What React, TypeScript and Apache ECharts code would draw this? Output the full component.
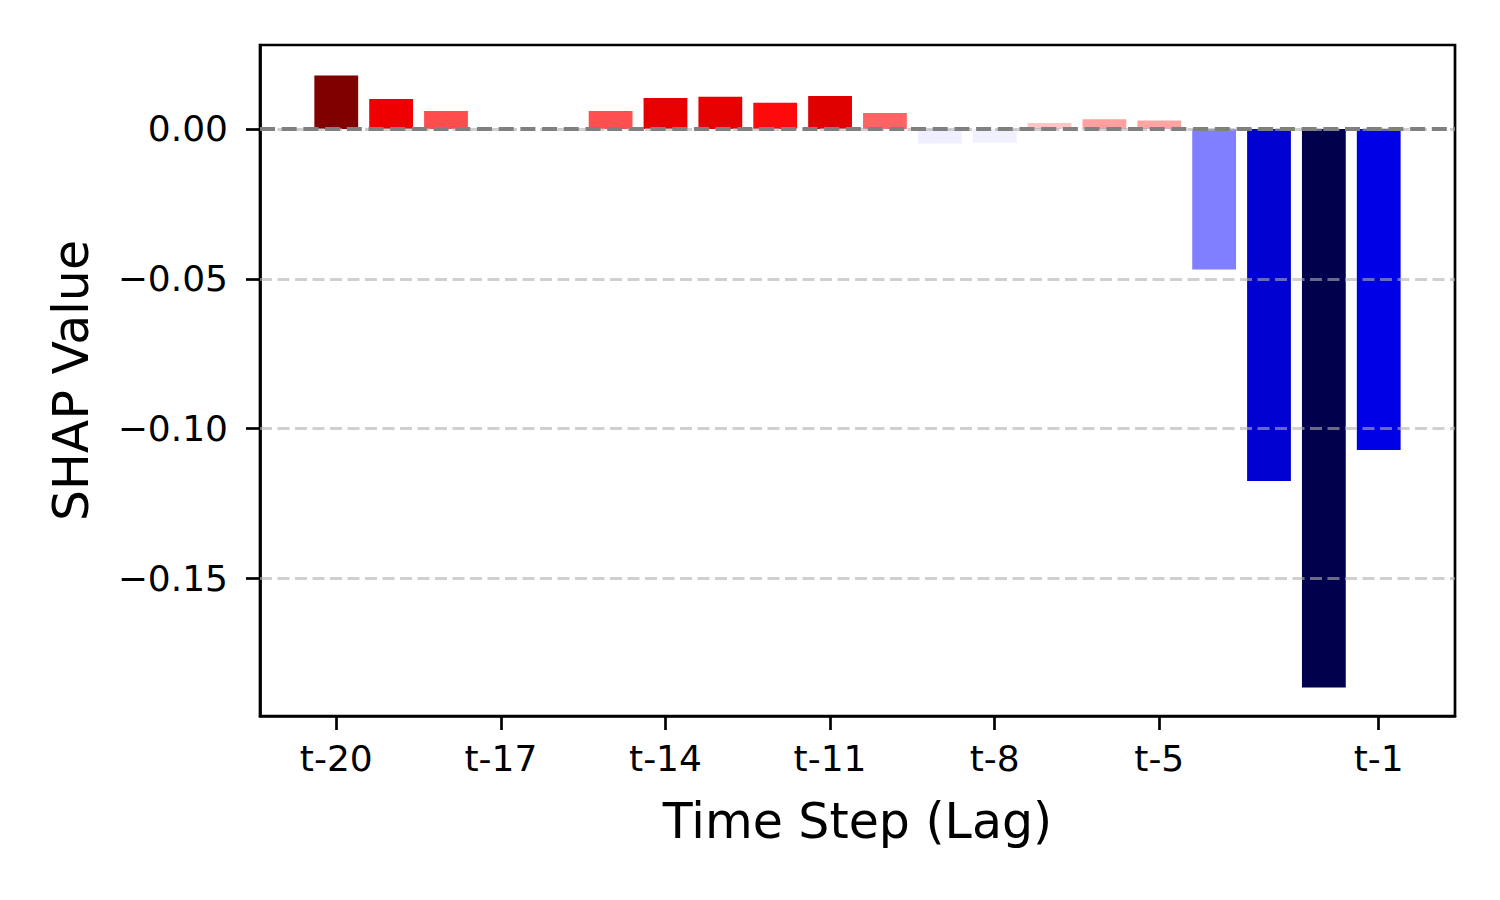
import React, { useEffect, useRef } from "react";
import * as echarts from "echarts";

const categories = [
  "t-20", "t-19", "t-18", "t-17", "t-16", "t-15", "t-14", "t-13", "t-12", "t-11",
  "t-10", "t-9", "t-8", "t-7", "t-6", "t-5", "t-4", "t-3", "t-2", "t-1",
];
const shapValues = [
  0.0178, 0.0100, 0.0060, 0.0, 0.0, 0.0060, 0.0103, 0.0107, 0.0087, 0.0110,
  0.0053, -0.0049, -0.0046, 0.0020, 0.0032, 0.0028, -0.0469, -0.1175, -0.1864, -0.1071,
];
const barColors = [
  "#800000", "#ee0000", "#ff4d4d", "#ffffff", "#ffffff", "#ff4f4f", "#e80000", "#e60000", "#ff0a0a", "#e00000",
  "#ff6464", "#efefff", "#f0f0ff", "#ffc4c4", "#ffa0a0", "#ffa3a3", "#7f7fff", "#0000d0", "#00004c", "#0000e6",
];
const xTickIndices = [0, 3, 6, 9, 12, 15, 19];
const yTickValues = [0, -0.05, -0.1, -0.15];
const gridLineValues = [-0.05, -0.1, -0.15, 0];

const FONT = "DejaVu Sans";

export default function App() {
  const ref = useRef<HTMLDivElement>(null);
  useEffect(() => {
    if (!ref.current) return;
    const chart = echarts.init(ref.current, null, { renderer: "svg" });
    const fmtY = (v: number) => {
      if (Math.abs(v) < 1e-9) return "0.00";
      return (v < 0 ? "\u2212" : "") + Math.abs(v).toFixed(2);
    };
    chart.setOption({
      animation: false,
      backgroundColor: "#ffffff",
      grid: {
        left: 260,
        top: 45,
        width: 1195,
        height: 671,
        show: true,
        borderColor: "#000000",
        borderWidth: 2.7,
        backgroundColor: "#ffffff",
      },
      xAxis: {
        type: "value",
        min: -1.39,
        max: 20.39,
        axisLine: { show: true, onZero: false, lineStyle: { color: "#000", width: 2.7 } },
        axisTick: {
          show: true,
          customValues: xTickIndices,
          length: 14,
          lineStyle: { color: "#000", width: 2.7 },
        },
        axisLabel: {
          customValues: xTickIndices,
          formatter: (v: number) => categories[Math.round(v)] ?? "",
          fontFamily: FONT,
          fontSize: 36,
          color: "#000",
          margin: 24,
        },
        splitLine: { show: false },
      },
      yAxis: {
        type: "value",
        min: -0.1959,
        max: 0.028,
        axisLine: { show: true, onZero: false, lineStyle: { color: "#000", width: 2.7 } },
        axisTick: {
          show: true,
          customValues: yTickValues,
          length: 14,
          lineStyle: { color: "#000", width: 2.7 },
        },
        axisLabel: {
          customValues: yTickValues,
          formatter: fmtY,
          fontFamily: FONT,
          fontSize: 36,
          color: "#000",
          margin: 32,
        },
        splitLine: { show: false },
      },
      series: [
        {
          type: "bar",
          barWidth: 43.8,
          data: shapValues.map((v, i) => ({ value: [i, v], itemStyle: { color: barColors[i] } })),
          markLine: {
            silent: true,
            symbol: ["none", "none"],
            label: { show: false },
            z: 10,
            data: [
              ...gridLineValues.map((v) => ({
                yAxis: v,
                lineStyle: { color: "#b0b0b0", opacity: 0.6, width: 3, type: [12, 5.5] },
              })),
              {
                yAxis: 0,
                lineStyle: { color: "#808080", opacity: 1, width: 4, type: [15, 6.7] },
              },
            ],
          },
        },
      ],
      graphic: [
        {
          type: "text",
          x: 857.5,
          y: 821,
          style: {
            text: "Time Step (Lag)",
            font: `49px "${FONT}"`,
            fill: "#000",
            textAlign: "center",
            textVerticalAlign: "middle",
          },
        },
        {
          type: "text",
          x: 71,
          y: 380.5,
          rotation: Math.PI / 2,
          style: {
            text: "SHAP Value",
            font: `49px "${FONT}"`,
            fill: "#000",
            textAlign: "center",
            textVerticalAlign: "middle",
          },
        },
      ],
    });
    return () => chart.dispose();
  }, []);
  return (
    <div
      ref={ref}
      style={{ position: "fixed", left: 0, top: 0, width: 1500, height: 900 }}
    />
  );
}
